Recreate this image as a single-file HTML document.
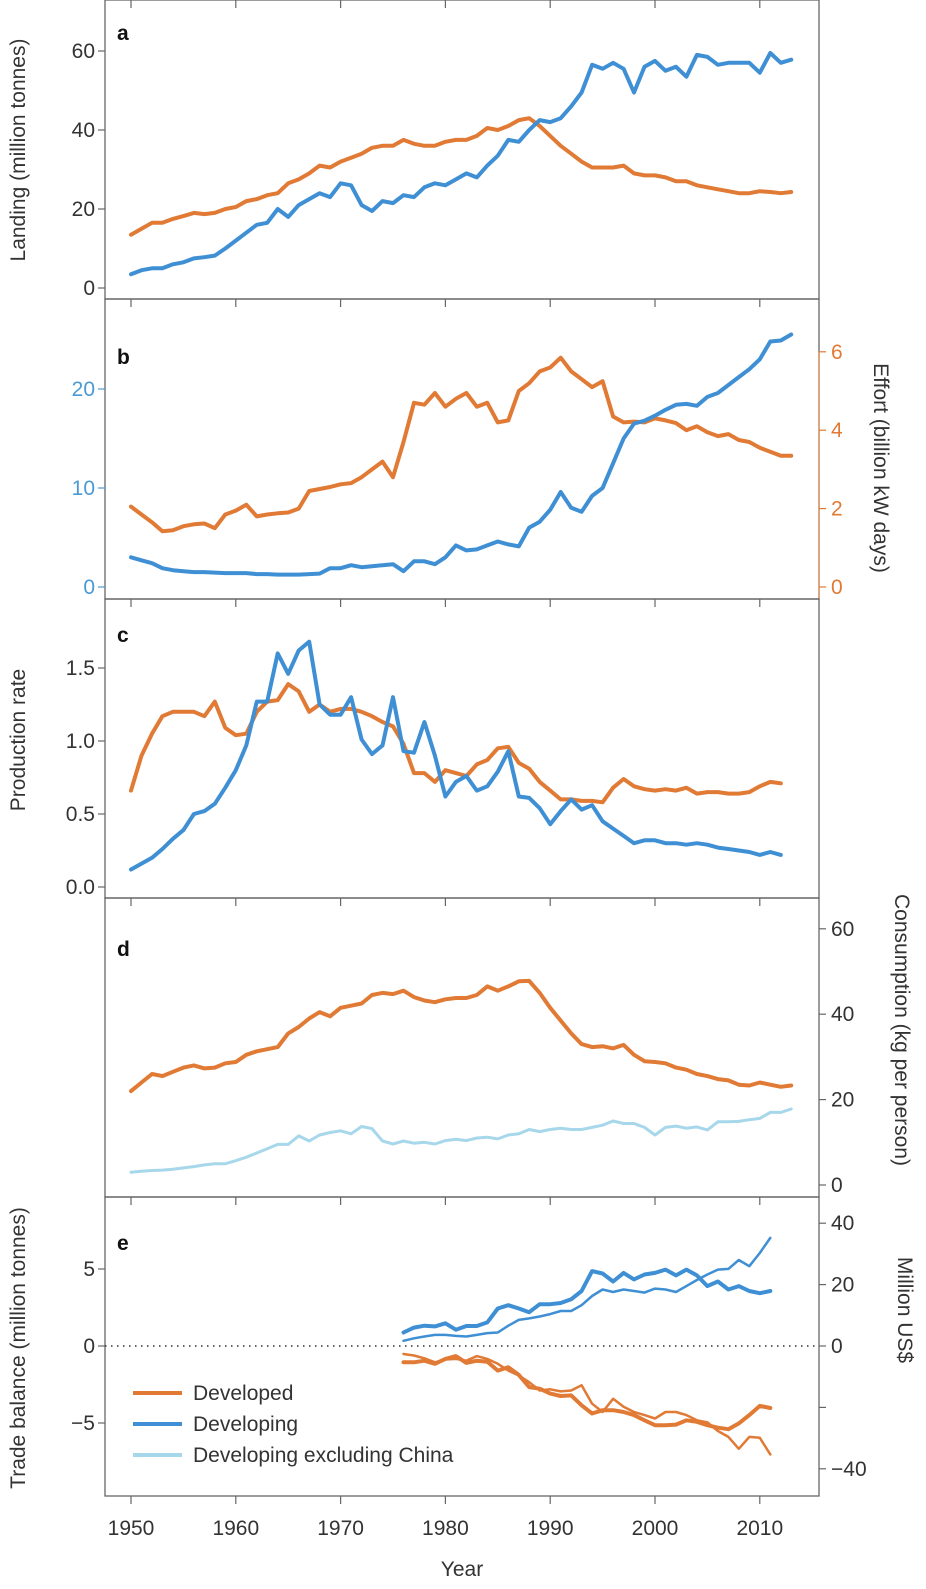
<!DOCTYPE html>
<html><head><meta charset="utf-8"><style>
html,body{margin:0;padding:0;background:#fff}
svg text{font-family:"Liberation Sans",sans-serif;fill:#333}
</style></head><body>
<svg id="s" width="926" height="1584" xmlns="http://www.w3.org/2000/svg"></svg>
<script>
const S=document.getElementById('s');let h='';
const OR='#e07a35',BL='#3f8fd4',LB='#a7d7ea';
const X=y=>131+(y-1950)*10.48;const L=105,R=819;
function line(d,f,c,w,y0){let p=d.map((v,i)=>X(y0+i).toFixed(1)+','+f(v).toFixed(1)).join(' ');h+=`<polyline points="${p}" fill="none" stroke="${c}" stroke-width="${w}" stroke-linejoin="round" stroke-linecap="round"/>`;}
function frame(t,b){h+=`<rect x="${L}" y="${t}" width="${R-L}" height="${b-t}" fill="none" stroke="#666" stroke-width="1.3"/>`;
 for(let y=1950;y<=2010;y+=10){h+=`<line x1="${X(y)}" y1="${t}" x2="${X(y)}" y2="${t+8}" stroke="#666" stroke-width="1.2"/>`;}}
function lt(vals,f,labs,col){vals.forEach((v,i)=>{let y=f(v);h+=`<line x1="${L-7}" y1="${y}" x2="${L}" y2="${y}" stroke="${col||'#666'}" stroke-width="1.2"/><text x="${L-10}" y="${y+7}" font-size="21" text-anchor="end" style="fill:${col||'#333'}">${labs[i]}</text>`;});}
function rt(vals,f,labs,col){vals.forEach((v,i)=>{let y=f(v);h+=`<line x1="${R}" y1="${y}" x2="${R+7}" y2="${y}" stroke="${col||'#666'}" stroke-width="1.2"/><text x="${R+12}" y="${y+7}" font-size="21" style="fill:${col||'#333'}">${labs[i]}</text>`;});}
function lab(t,x,y){h+=`<text x="${x}" y="${y}" font-size="21" font-weight="bold" style="fill:#111">${t}</text>`;}
function vt(t,x,y,rot,col){h+=`<text transform="translate(${x},${y}) rotate(${rot})" font-size="21" text-anchor="middle" style="fill:${col||'#333'}">${t}</text>`;}
// panel a
frame(0,299);lab('a',117,40);
const fa=v=>288-v*3.95;lt([0,20,40,60],fa,['0','20','40','60']);
vt('Landing (million tonnes)',25,150,-90);
line([13.5,15,16.5,16.5,17.5,18.2,19,18.7,19,20,20.5,22,22.5,23.5,24,26.5,27.5,29,31,30.5,32,33,34,35.5,36,36,37.5,36.5,36,36,37,37.5,37.5,38.5,40.5,40,41,42.5,43,41,38.5,36,34,32,30.5,30.5,30.5,31,29,28.5,28.5,28,27,27,26,25.5,25,24.5,24,24,24.5,24.3,24,24.3],fa,OR,4,1950);
line([3.5,4.5,5,5,6,6.5,7.5,7.8,8.2,10,12,14,16,16.5,20,18,21,22.5,24,23,26.5,26,21,19.5,22,21.5,23.5,23,25.5,26.5,26,27.5,29,28,31,33.5,37.5,37,40,42.5,42,43,46,49.5,56.5,55.5,57,55.5,49.5,56,57.5,55,56,53.5,59,58.5,56.5,57,57,57,54.5,59.5,57,57.8],fa,BL,4,1950);
// panel b
frame(299,599);lab('b',117,364);
const fbl=v=>587-v*9.9,fbr=v=>587-v*39.2;
lt([0,10,20],fbl,['0','10','20'],'#4a9ad4');rt([0,2,4,6],fbr,['0','2','4','6'],OR);
h+=`<line x1="${R}" y1="352" x2="${R}" y2="599" stroke="${OR}" stroke-width="1"/>`;
vt('Effort (billion kW days)',874,468,90,'#333');
line([2.05,1.85,1.65,1.42,1.45,1.55,1.6,1.62,1.5,1.85,1.95,2.1,1.8,1.85,1.88,1.9,2.0,2.45,2.5,2.55,2.62,2.65,2.8,3.0,3.2,2.8,3.7,4.7,4.65,4.95,4.6,4.8,4.95,4.6,4.7,4.2,4.25,5.0,5.2,5.5,5.6,5.85,5.5,5.3,5.1,5.25,4.35,4.2,4.22,4.2,4.3,4.25,4.18,4.0,4.1,3.95,3.85,3.9,3.75,3.7,3.55,3.45,3.35,3.35],fbr,OR,4,1950);
line([3,2.7,2.4,1.9,1.7,1.6,1.5,1.5,1.45,1.4,1.4,1.4,1.3,1.3,1.25,1.25,1.25,1.3,1.35,1.9,1.9,2.2,2.0,2.1,2.2,2.3,1.6,2.6,2.6,2.3,3.0,4.2,3.7,3.8,4.2,4.6,4.3,4.1,6.0,6.6,7.8,9.6,8.0,7.6,9.2,10.0,12.5,15.0,16.5,16.8,17.3,17.9,18.4,18.5,18.3,19.2,19.6,20.4,21.2,22.0,23.0,24.8,24.9,25.5],fbl,BL,4,1950);
// panel c
frame(599,898);lab('c',117,642);
const fc=v=>887-v*146;lt([0,0.5,1,1.5],fc,['0.0','0.5','1.0','1.5']);
vt('Production rate',25,740,-90);
line([0.66,0.9,1.05,1.17,1.2,1.2,1.2,1.17,1.27,1.09,1.04,1.05,1.2,1.27,1.28,1.39,1.34,1.2,1.25,1.2,1.22,1.22,1.2,1.17,1.13,1.1,0.98,0.78,0.78,0.72,0.8,0.78,0.76,0.84,0.87,0.95,0.96,0.85,0.81,0.72,0.66,0.6,0.6,0.59,0.59,0.58,0.68,0.74,0.69,0.67,0.66,0.67,0.66,0.68,0.64,0.65,0.65,0.64,0.64,0.65,0.69,0.72,0.71],fc,OR,4,1950);
line([0.12,0.16,0.2,0.26,0.33,0.39,0.5,0.52,0.57,0.68,0.8,0.97,1.27,1.27,1.6,1.46,1.62,1.68,1.25,1.18,1.18,1.3,1.01,0.91,0.97,1.3,0.93,0.92,1.13,0.9,0.62,0.72,0.76,0.66,0.69,0.79,0.93,0.62,0.61,0.54,0.43,0.52,0.6,0.53,0.56,0.45,0.4,0.35,0.3,0.32,0.32,0.3,0.3,0.29,0.3,0.29,0.27,0.26,0.25,0.24,0.22,0.24,0.22],fc,BL,4,1950);
// panel d
frame(898,1197);lab('d',117,956);
const fd=v=>1185-v*4.27;rt([0,20,40,60],fd,['0','20','40','60']);
vt('Consumption (kg per person)',895,1030,90);
line([22,24,26,25.5,26.5,27.5,28,27.3,27.5,28.5,28.8,30.5,31.3,31.8,32.3,35.5,37,39,40.5,39.5,41.5,42,42.5,44.5,45,44.7,45.5,44,43.2,42.8,43.5,43.8,43.8,44.5,46.5,45.5,46.5,47.7,47.8,45,41.5,38.5,35.5,33,32.3,32.5,32,32.8,30.5,29,28.8,28.5,27.5,27,26,25.5,24.8,24.5,23.5,23.3,24,23.5,23,23.3],fd,OR,4,1950);
line([3,3.2,3.4,3.5,3.7,4,4.3,4.7,5,5,5.7,6.5,7.5,8.5,9.5,9.5,11.5,10.3,11.7,12.3,12.7,12,13.7,13.2,10.3,9.6,10.3,9.8,10,9.6,10.4,10.7,10.4,11,11.2,10.8,11.7,12,13,12.5,13,13.3,13,13,13.5,14,15,14.4,14.4,13.5,11.7,13.5,13.8,13.3,13.6,12.9,14.8,14.8,14.9,15.3,15.6,17,17,17.8],fd,LB,3,1950);
// panel e
frame(1197,1496);lab('e',117,1250);
const fel=v=>1346-v*15.4,fer=v=>1346-v*3.07;
lt([-5,0,5],fel,['\u22125','0','5']);rt([-40,-20,0,20,40],fer,['\u221240','','0','20','40']);
h+=`<line x1="${L}" y1="1346" x2="${R}" y2="1346" stroke="#333" stroke-width="1.5" stroke-dasharray="1.5,4.5"/>`;
vt('Trade balance (million tonnes)',25,1348,-90);vt('Million US$',898,1310,90);
for(let y=1950;y<=2010;y+=10){h+=`<line x1="${X(y)}" y1="1496" x2="${X(y)}" y2="1504" stroke="#666" stroke-width="1.2"/><text x="${X(y)}" y="1535" font-size="21" text-anchor="middle">${y}</text>`;}
h+=`<text x="462" y="1576" font-size="21" text-anchor="middle">Year</text>`;
line([4.4,6,6.6,6.4,7.4,5.3,6.5,6.5,7.7,12.2,13.3,12.2,11,13.6,13.6,14,15.2,17.9,24.4,23.6,21,23.8,21.7,23.3,23.8,24.9,23,24.9,23,19.5,21,18.4,19.5,17.9,17.2,17.9],fer,BL,4,1976);
line([1.7,2.5,3.1,3.6,3.6,3.3,3.1,3.6,4.2,4.4,6.6,8.5,9,9.6,10.4,11.4,11.4,13.3,16.3,18.4,17.6,18.4,17.9,17.4,18.7,18.4,17.6,19.5,21.5,23.3,24.9,25.1,28,26,30.3,35.2],fer,BL,2.5,1976);
line([-5.3,-5.3,-4.8,-5.8,-4.2,-3.3,-5.5,-4.8,-5.1,-8,-6.9,-9.4,-13.4,-13.9,-15.5,-16.3,-16.1,-19.3,-22,-20.9,-20.9,-21.5,-22.5,-24.2,-25.8,-25.8,-25.6,-24.2,-24.7,-25.8,-26.6,-27.1,-25.2,-22.5,-19.5,-20.2],fer,OR,4,1976);
line([-2.6,-3.1,-4,-5.3,-4.4,-4.2,-4.8,-3.3,-4.2,-5.8,-8,-9.6,-11.8,-14.5,-14.1,-14.8,-14.5,-12.8,-18.8,-21.5,-17.2,-19.8,-21.5,-22.5,-23.6,-21.5,-21.5,-22.5,-24.2,-24.9,-27.7,-29.6,-33.5,-29.6,-29.9,-35.3],fer,OR,2.5,1976);
// legend
[['Developed',OR,1393],['Developing',BL,1424],['Developing excluding China',LB,1455]].forEach(a=>{h+=`<line x1="133" y1="${a[2]}" x2="182" y2="${a[2]}" stroke="${a[1]}" stroke-width="4"/><text x="193" y="${a[2]+7}" font-size="21">${a[0]}</text>`;});
S.innerHTML=h;
</script>
</body></html>
